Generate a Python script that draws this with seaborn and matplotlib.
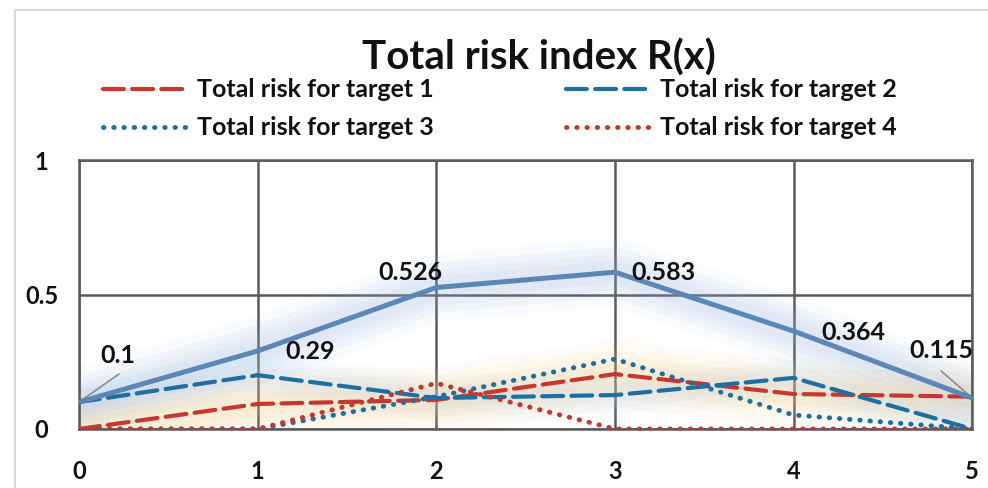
import numpy as np
import pandas as pd
import seaborn as sns
import matplotlib.pyplot as plt
from matplotlib.patches import Rectangle

# Data
x = [0, 1, 2, 3, 4, 5]
total_risk = [0.1, 0.29, 0.526, 0.583, 0.364, 0.115]
target1 = [0.0, 0.093, 0.108, 0.204, 0.13, 0.12]
target2 = [0.1, 0.2, 0.115, 0.126, 0.19, 0.0]
target3 = [0.0, 0.0, 0.12, 0.26, 0.052, 0.0]
target4 = [0.0, 0.0, 0.17, 0.0, 0.0, 0.0]
labels = ["Total risk for target 1", "Total risk for target 2",
          "Total risk for target 3", "Total risk for target 4"]

sns.set_theme(style="white")
plt.rcParams['font.family'] = ['Lato', 'DejaVu Sans']
plt.rcParams['font.weight'] = 'bold'

fig = plt.figure(figsize=(9.88, 4.88), dpi=100)
ax = fig.add_axes([0.080, 0.121, 0.904, 0.551])

red = "#c8372d"
blue = "#1b6fa1"
steel = "#5b87b7"
px = 0.72  # points per pixel at 100 dpi

# soft glow underneath the lines
for lw, a in [(48, 0.06), (36, 0.07), (26, 0.08), (16, 0.09)]:
    ax.plot(x, total_risk, color="#8fb3e0", lw=lw, alpha=a, solid_capstyle="round", zorder=1)
    ax.plot(x, target1, color="#f0c372", lw=lw, alpha=a, solid_capstyle="round", zorder=1)
    ax.plot(x, target2, color="#b9cfe6", lw=lw * 0.7, alpha=a, solid_capstyle="round", zorder=1)

dash = (0, (5, 2))
dot = (0, (0.1, 2.0))
styles = [(target1, red, dash, 3), (target2, blue, dash, 3),
          (target3, blue, dot, 3.5), (target4, red, dot, 3.5)]
for (vals, col, ls, w), lab in zip(styles, labels):
    sns.lineplot(x=x, y=vals, ax=ax, color=col, lw=w, linestyle=ls, label=lab,
                 dash_capstyle="round", zorder=3)

sns.lineplot(x=x, y=total_risk, ax=ax, color=steel, lw=3.6, legend=False, zorder=4)

# data labels, offsets in pixels from the point
offsets = [(39, 47), (52, -1), (-26, 15), (49, 0), (60, -1), (-31, 48)]
for xi, yi, (dx, dy) in zip(x, total_risk, offsets):
    ax.annotate(f"{yi:g}", xy=(xi, yi), xytext=(dx * px, dy * px),
                textcoords="offset points", ha="center", va="center",
                fontsize=18, fontweight="bold", color="#111111", zorder=5)
# leader lines for first and last labels
ax.annotate("", xy=(0, 0.1), xytext=(40 * px, 28 * px), textcoords="offset points",
            arrowprops=dict(arrowstyle="-", color="#8c8c8c", lw=1.2, shrinkA=0, shrinkB=0))
ax.annotate("", xy=(5, 0.115), xytext=(-31 * px, 27 * px), textcoords="offset points",
            arrowprops=dict(arrowstyle="-", color="#8c8c8c", lw=1.2, shrinkA=0, shrinkB=0))

ax.set_xlim(0, 5)
ax.set_ylim(0, 1)
ax.set_xticks(x)
ax.set_yticks([0, 0.5, 1])
ax.set_yticklabels(["0", "0.5", "1"])
ax.grid(True, color="#5a5a5a", lw=1.8)
for s in ax.spines.values():
    s.set_color("#5a5a5a")
    s.set_linewidth(1.8)
ax.tick_params(axis="both", length=0, labelsize=17, colors="#111111")
ax.tick_params(axis="x", pad=22)
ax.tick_params(axis="y", pad=27)
for t in ax.get_xticklabels() + ax.get_yticklabels():
    t.set_fontweight("bold")
for t in ax.get_yticklabels():
    t.set_horizontalalignment("center")

fig.text(0.545, 0.882, "Total risk index R(x)", ha="center", va="center",
         fontsize=29, fontweight="bold", color="#111111")

# row-wise legend order: 1, 2 on the first row, 3, 4 on the second
h, l = ax.get_legend_handles_labels()
order = [0, 2, 1, 3]
leg = ax.legend([h[i] for i in order], [l[i] for i in order],
                loc="center", bbox_to_anchor=(0.471, 1.19), ncol=2, frameon=False,
                fontsize=18, handlelength=3.4, columnspacing=5.3, handletextpad=0.35,
                labelspacing=0.6)
for t in leg.get_texts():
    t.set_fontweight("bold")
    t.set_color("#111111")

fig.patches.append(Rectangle((0.015, -0.01), 0.99, 0.99, transform=fig.transFigure,
                             fill=False, edgecolor="#d9d9d9", lw=1.5))

fig.savefig("out.png", dpi=100)
